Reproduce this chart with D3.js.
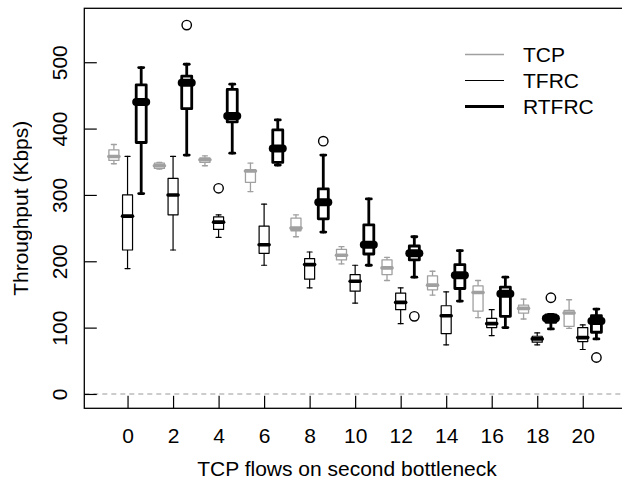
<!DOCTYPE html>
<html>
<head>
<meta charset="utf-8">
<script src="https://cdn.jsdelivr.net/npm/d3@7"></script>
<style>
  body { margin: 0; background: #fff; }
  text { font-family: "Liberation Sans", Arial, Helvetica, sans-serif; fill: #000; }
  .rot { opacity: 0.999; }
</style>
</head>
<body>
<svg id="chart" width="622" height="483"></svg>
<script>
// data
var flows = [0, 2, 4, 6, 8, 10, 12, 14, 16, 18, 20];
var yTicks = [0, 100, 200, 300, 400, 500];
var seriesNames = ["TCP", "TFRC", "RTFRC"];

// five-number summaries (Kbps)
var tcpLow    = [347, 339, 344, 305, 237, 196, 171, 149, 115, 113,  99];
var tcpQ1     = [352, 340, 349, 319, 246, 202, 180, 157, 125, 122, 102];
var tcpMed    = [358, 344, 353, 336, 250, 209, 190, 164, 153, 129, 122];
var tcpQ3     = [368, 348, 356, 338, 265, 218, 202, 178, 163, 134, 126];
var tcpHigh   = [376, 349, 359, 348, 270, 222, 206, 185, 171, 143, 142];
var tcpOut    = [[], [], [], [], [], [], [], [], [], [], []];

var tfrcLow   = [189, 217, 236, 194, 160, 137, 106,  74,  88,  74,  67];
var tfrcQ1    = [217, 270, 248, 212, 173, 155, 127,  91, 100,  78,  79];
var tfrcMed   = [268, 300, 259, 225, 195, 170, 138, 118, 106,  83,  85];
var tfrcQ3    = [300, 325, 267, 253, 204, 180, 152, 133, 114,  87, 100];
var tfrcHigh  = [358, 358, 270, 286, 214, 194, 160, 154, 127,  92, 104];
var tfrcOut   = [[], [], [310], [], [], [], [], [], [], [], []];

var rtfrcLow  = [302, 360, 363, 345, 244, 194, 176, 140, 100,  98,  83];
var rtfrcQ1   = [379, 430, 410, 349, 264, 211, 202, 159, 117, 108,  93];
var rtfrcMed  = [440, 469, 419, 370, 289, 225, 212, 179, 151, 114, 110];
var rtfrcQ3   = [466, 479, 459, 398, 309, 255, 223, 195, 161, 119, 118];
var rtfrcHigh = [492, 497, 467, 413, 360, 294, 237, 216, 176, 120, 128];
var rtfrcOut  = [[], [556], [], [], [381], [], [117], [], [], [145], [55]];

// drawing styles per series
var styles = {
  TCP:   { color: "#a0a0a0", lw: 1.3, medlw: 3.6, shift: -0.6 },
  TFRC:  { color: "#000",    lw: 1.2, medlw: 3.6, shift: 0 },
  RTFRC: { color: "#000",    lw: 2.8, medlw: 8,   shift: 0.6 }
};

var series = [
  { name: "TCP",   low: tcpLow,   q1: tcpQ1,   med: tcpMed,   q3: tcpQ3,   high: tcpHigh,   out: tcpOut },
  { name: "TFRC",  low: tfrcLow,  q1: tfrcQ1,  med: tfrcMed,  q3: tfrcQ3,  high: tfrcHigh,  out: tfrcOut },
  { name: "RTFRC", low: rtfrcLow, q1: rtfrcQ1, med: rtfrcMed, q3: rtfrcQ3, high: rtfrcHigh, out: rtfrcOut }
];

var svg = d3.select("#chart");
var pLeft = 84.3, pRight = 626, pTop = 8.3, pBottom = 408.3;

var x = d3.scaleLinear().domain([-1.9, 21.9]).range([pLeft, pRight]);
var y = d3.scaleLinear().domain([-21.6, 581.3]).range([pBottom, pTop]);

var boxW = 10, stapleW = 5;

// dashed zero line
svg.append("line")
  .attr("x1", pLeft).attr("x2", pRight)
  .attr("y1", y(0)).attr("y2", y(0))
  .attr("stroke", "#999").attr("stroke-width", 1.1)
  .attr("stroke-dasharray", "5,4");

// boxes
series.forEach(function(s) {
  var st = styles[s.name];
  var g = svg.append("g")
    .attr("stroke", st.color)
    .attr("fill", "none")
    .attr("stroke-linecap", "round")
    .attr("stroke-linejoin", "round");

  flows.forEach(function(f, i) {
    var cx = x(f + st.shift);
    // whiskers
    g.append("line").attr("x1", cx).attr("x2", cx)
      .attr("y1", y(s.q3[i])).attr("y2", y(s.high[i])).attr("stroke-width", st.lw);
    g.append("line").attr("x1", cx).attr("x2", cx)
      .attr("y1", y(s.q1[i])).attr("y2", y(s.low[i])).attr("stroke-width", st.lw);
    // staples
    [s.low[i], s.high[i]].forEach(function(v) {
      g.append("line")
        .attr("x1", cx - stapleW / 2).attr("x2", cx + stapleW / 2)
        .attr("y1", y(v)).attr("y2", y(v)).attr("stroke-width", st.lw);
    });
    // box
    g.append("rect")
      .attr("x", cx - boxW / 2).attr("width", boxW)
      .attr("y", y(s.q3[i])).attr("height", y(s.q1[i]) - y(s.q3[i]))
      .attr("fill", "#fff").attr("stroke-width", st.lw);
    // median
    g.append("line")
      .attr("x1", cx - boxW / 2).attr("x2", cx + boxW / 2)
      .attr("y1", y(s.med[i])).attr("y2", y(s.med[i]))
      .attr("stroke-width", st.medlw);
    // outliers
    s.out[i].forEach(function(v) {
      g.append("circle").attr("cx", cx).attr("cy", y(v)).attr("r", 4.7)
        .attr("stroke-width", 1.4);
    });
  });
});

// axes, ticks point inward
var yAxis = svg.append("g")
  .attr("transform", "translate(" + pLeft + ",0)")
  .call(d3.axisLeft(y).tickValues(yTicks).tickSize(-12.5));
yAxis.select(".domain").remove();
yAxis.selectAll(".tick line").attr("stroke", "#000").attr("stroke-width", 1.2);
yAxis.selectAll(".tick text")
  .attr("class", "rot")
  .attr("x", null).attr("dy", null)
  .attr("text-anchor", "middle")
  .attr("transform", "translate(-17,0) rotate(-90)")
  .style("font-size", "21px")
  .style("font-family", "'Liberation Sans', Arial, sans-serif");

var xAxis = svg.append("g")
  .attr("transform", "translate(0," + pBottom + ")")
  .call(d3.axisBottom(x).tickValues(flows).tickSize(-12.5));
xAxis.select(".domain").remove();
xAxis.selectAll(".tick line").attr("stroke", "#000").attr("stroke-width", 1.2);
xAxis.selectAll(".tick text")
  .attr("y", 35).attr("dy", null)
  .style("font-size", "21px")
  .style("font-family", "'Liberation Sans', Arial, sans-serif");

// frame (right side is past the window edge)
svg.append("rect")
  .attr("x", pLeft).attr("y", pTop)
  .attr("width", pRight - pLeft).attr("height", pBottom - pTop)
  .attr("fill", "none").attr("stroke", "#000").attr("stroke-width", 1.3);

// titles
svg.append("text")
  .attr("x", 347).attr("y", 476)
  .attr("text-anchor", "middle")
  .style("font-size", "21px")
  .text("TCP flows on second bottleneck");

svg.append("text")
  .attr("class", "rot")
  .attr("transform", "translate(28," + (pTop + pBottom) / 2 + ") rotate(-90)")
  .attr("text-anchor", "middle")
  .style("font-size", "21px")
  .text("Throughput (Kbps)");

// legend
var legend = svg.append("g");
seriesNames.forEach(function(name, i) {
  var st = styles[name];
  var ly = 54 + i * 26;
  legend.append("line")
    .attr("x1", 465).attr("x2", 504).attr("y1", ly + 0.5).attr("y2", ly + 0.5)
    .attr("stroke", st.color).attr("stroke-width", st.lw);
  legend.append("text")
    .attr("x", 523).attr("y", ly).attr("dy", "0.36em")
    .style("font-size", "21px")
    .text(name);
});
</script>
</body>
</html>
